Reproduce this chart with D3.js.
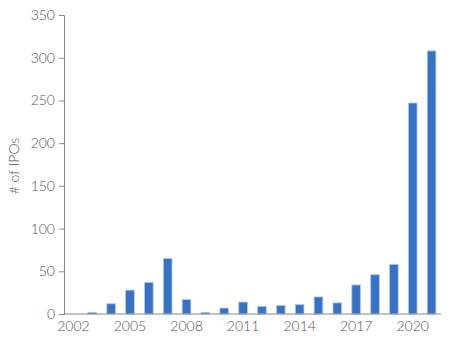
<!DOCTYPE html>
<html>
<head>
<meta charset="utf-8">
<script src="https://cdn.jsdelivr.net/npm/d3@7"></script>
<style>
  body { margin: 0; background: #fff; }
  text { font-family: Lato, "Open Sans", sans-serif; font-weight: 300; fill: #555; }
</style>
</head>
<body>
<svg width="449" height="339"></svg>
<script>
const years = d3.range(2002, 2022);
const ipoCounts = [0, 2, 12, 28, 37, 65, 17, 2, 7, 14, 9, 10, 11, 20, 13, 34, 46, 58, 247, 308];
const yTicks = [0, 50, 100, 150, 200, 250, 300, 350];
const xTickYears = [2002, 2005, 2008, 2011, 2014, 2017, 2020];

const svg = d3.select("svg");

// scales
const x = d3.scaleBand()
    .domain(years)
    .range([64, 441])
    .paddingInner(0.54)
    .paddingOuter(0.27);

const y = d3.scaleLinear()
    .domain([0, 350])
    .range([314, 15]);

// bars
svg.selectAll(".bar")
    .data(years)
    .enter().append("rect")
        .classed("bar", true)
        .attr("x", (d) => x(d))
        .attr("width", x.bandwidth())
        .attr("y", (d, i) => y(ipoCounts[i]))
        .attr("height", (d, i) => y(0) - y(ipoCounts[i]))
        .attr("fill", "#3872c2")
        .attr("stroke", "#b4cbea")
        .attr("stroke-width", 0.8);

// y axis
const yAxis = svg.append("g")
    .attr("transform", "translate(64,0)")
    .call(d3.axisLeft(y).tickValues(yTicks).tickSize(5).tickPadding(4));
yAxis.select(".domain").attr("stroke", "#888");
yAxis.selectAll(".tick line").attr("stroke", "#888");
yAxis.selectAll(".tick text").style("font-size", "14px").attr("fill", "#555");

// x axis
const xAxis = svg.append("g")
    .attr("transform", "translate(0,314)")
    .call(d3.axisBottom(x).tickValues(xTickYears).tickSize(0).tickPadding(7));
xAxis.select(".domain").attr("stroke", "#888").attr("d", "M64,0H441");
xAxis.selectAll(".tick text").style("font-size", "14px").attr("fill", "#555");

// y label
svg.append("text")
    .attr("transform", "translate(19,166) rotate(-90)")
    .attr("text-anchor", "middle")
    .style("font-size", "14px")
    .text("# of IPOs");
</script>
</body>
</html>
